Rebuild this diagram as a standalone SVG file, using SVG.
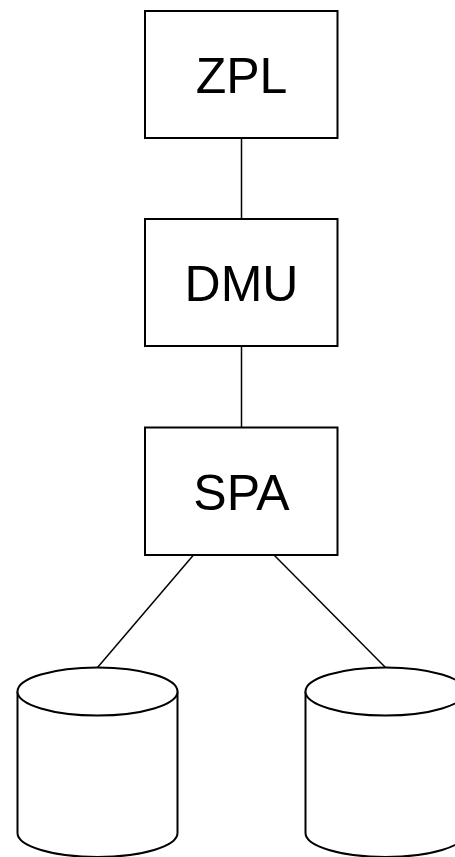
<svg xmlns="http://www.w3.org/2000/svg" width="455" height="857" viewBox="0 0 455 857">
<style>
.box{fill:#fff;stroke:#000;stroke-width:2}
.lbl{font-family:"Liberation Sans",Arial,sans-serif;font-size:50px;text-anchor:middle;fill:#000}
.conn{stroke:#000;stroke-width:1.5;fill:none}
.cyl{fill:#fff;stroke:#000;stroke-width:2}
</style>
<rect width="455" height="857" fill="#fff"/>
<g id="connectors">
<line class="conn" x1="241.5" y1="138" x2="241.5" y2="219"/>
<line class="conn" x1="241.5" y1="346" x2="241.5" y2="427.5"/>
<line class="conn" x1="193.5" y1="555" x2="97.5" y2="667.5"/>
<line class="conn" x1="274" y1="555" x2="385.5" y2="667.5"/>
</g>
<g id="zpl">
<rect class="box" x="145" y="11" width="192.5" height="127"/>
<text class="lbl" x="241.5" y="93">ZPL</text>
</g>
<g id="dmu">
<rect class="box" x="145" y="219" width="192.5" height="127"/>
<text class="lbl" x="241.5" y="301">DMU</text>
</g>
<g id="spa">
<rect class="box" x="145" y="427.5" width="192.5" height="127.5"/>
<text class="lbl" x="241.5" y="509.5">SPA</text>
</g>
<g id="db1">
<path class="cyl" d="M17.5,691.5 L17.5,833 A80,24 0 0 0 177.5,833 L177.5,691.5"/>
<ellipse class="cyl" cx="97.5" cy="691.5" rx="80" ry="24"/>
</g>
<g id="db2">
<path class="cyl" d="M305.5,691.5 L305.5,833 A80,24 0 0 0 465.5,833 L465.5,691.5"/>
<ellipse class="cyl" cx="385.5" cy="691.5" rx="80" ry="24"/>
</g>
</svg>
